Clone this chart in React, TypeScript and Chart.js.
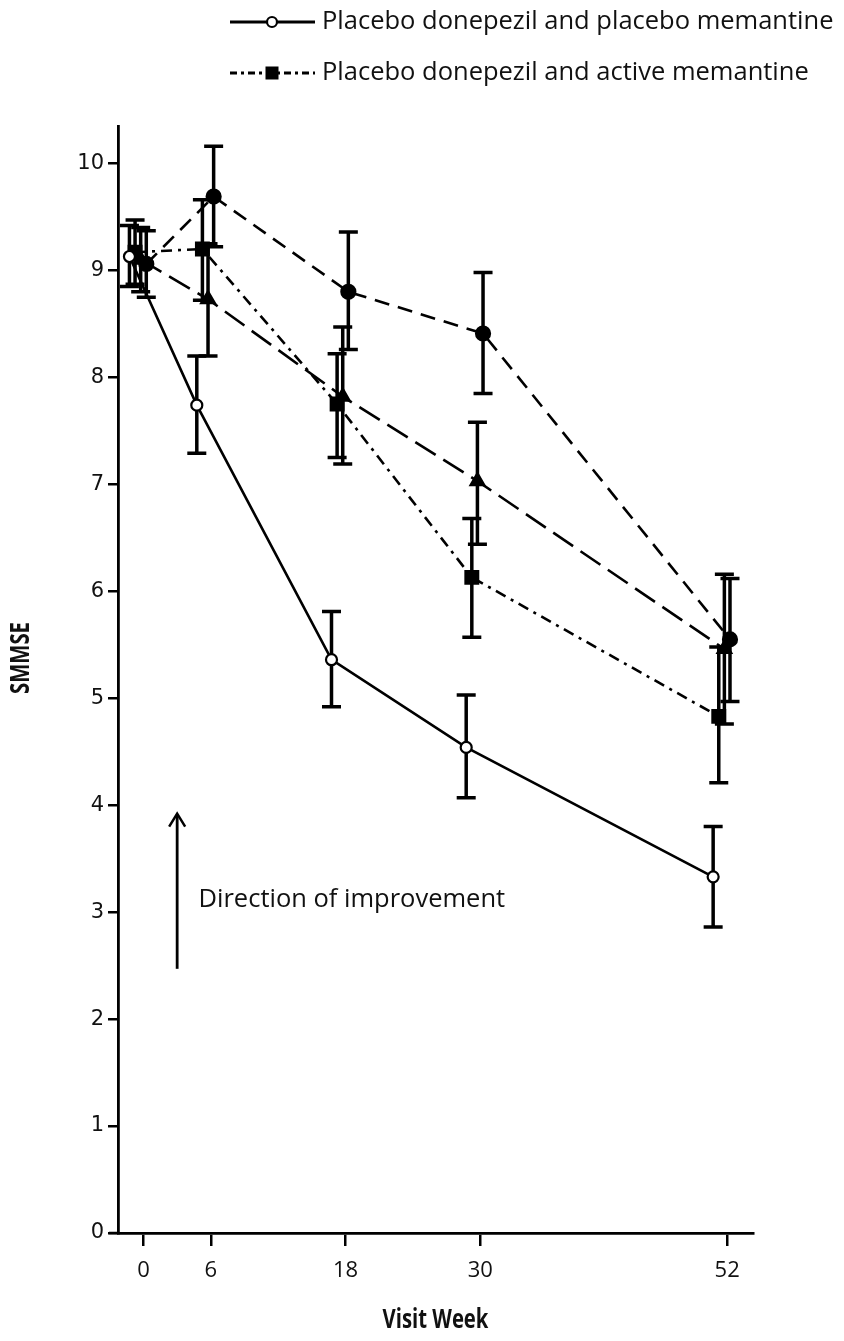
import React, { useEffect, useRef } from "react";
import { Chart, registerables } from "chart.js";

Chart.register(...registerables);

// ---- data ----
const weeks = [0, 6, 18, 30, 52];
const xTickLabels = ["0", "6", "18", "30", "52"];
const yTickValues = [0, 1, 2, 3, 4, 5, 6, 7, 8, 9, 10];

const seriesLabels = [
  "Placebo donepezil and placebo memantine",
  "Placebo donepezil and active memantine",
  "Active donepezil and placebo memantine",
  "Active donepezil and active memantine",
];

// Placebo donepezil + placebo memantine (open circle, solid)
const ppMean = [9.13, 7.74, 5.36, 4.54, 3.33];
const ppLow = [8.85, 7.29, 4.92, 4.07, 2.86];
const ppHigh = [9.42, 8.2, 5.81, 5.03, 3.8];

// Placebo donepezil + active memantine (square, dash-dot)
const paMean = [9.17, 9.2, 7.75, 6.13, 4.83];
const paLow = [8.87, 8.72, 7.25, 5.57, 4.21];
const paHigh = [9.47, 9.66, 8.22, 6.68, 5.48];

// Active donepezil + placebo memantine (triangle, long dash)
const dpMean = [9.1, 8.73, 7.82, 7.03, 5.46];
const dpLow = [8.8, 8.2, 7.19, 6.44, 4.76];
const dpHigh = [9.4, 9.25, 8.47, 7.58, 6.16];

// Active donepezil + active memantine (filled circle, dashed)
const daMean = [9.06, 9.69, 8.8, 8.41, 5.55];
const daLow = [8.75, 9.22, 8.26, 7.85, 4.97];
const daHigh = [9.37, 10.16, 9.36, 8.98, 6.12];

// horizontal dodge of each group (weeks)
const dodges = [-1.25, -0.75, -0.25, 0.25];

const legendShown = [0, 1];
const annotationText = "Direction of improvement";
const xTitle = "Visit Week";
const yTitle = "SMMSE";

const means = [ppMean, paMean, dpMean, daMean];
const lows = [ppLow, paLow, dpLow, daLow];
const highs = [ppHigh, paHigh, dpHigh, daHigh];

const styles = [
  { dash: [], legendDash: [], point: "circle", radius: 5.5, bg: "#ffffff" },
  { dash: [11, 6, 3, 6], legendDash: [7, 4, 3, 4], point: "rect", radius: 9, bg: "#000000" },
  { dash: [24, 9], legendDash: [24, 9], point: "triangle", radius: 8, bg: "#000000" },
  { dash: [15, 9], legendDash: [15, 9], point: "circle", radius: 7, bg: "#000000" },
];

const TEXT = "#111111";
const BODY_FONT = "'Open Sans'";

const errorBarPlugin = {
  id: "errorBars",
  beforeDatasetsDraw(chart: any) {
    const { ctx, scales } = chart;
    const xs = scales.x;
    const ys = scales.y;
    ctx.save();
    ctx.strokeStyle = "#000";
    ctx.lineWidth = 3.5;
    ctx.lineCap = "butt";
    ctx.setLineDash([]);
    means.forEach((_, i) => {
      weeks.forEach((w, j) => {
        const x = xs.getPixelForValue(w + dodges[i]);
        const yl = ys.getPixelForValue(lows[i][j]);
        const yh = ys.getPixelForValue(highs[i][j]);
        ctx.beginPath();
        ctx.moveTo(x, yl);
        ctx.lineTo(x, yh);
        ctx.moveTo(x - 9.5, yl);
        ctx.lineTo(x + 9.5, yl);
        ctx.moveTo(x - 9.5, yh);
        ctx.lineTo(x + 9.5, yh);
        ctx.stroke();
      });
    });
    ctx.restore();
  },
};

const decorPlugin = {
  id: "decor",
  afterDraw(chart: any) {
    const { ctx, scales, chartArea } = chart;
    const xs = scales.x;
    const ys = scales.y;
    ctx.save();
    // small overhang of x-axis to the left of the y-axis
    ctx.strokeStyle = "#000";
    ctx.lineWidth = 2.5;
    ctx.beginPath();
    ctx.moveTo(chartArea.left - 9, chartArea.bottom);
    ctx.lineTo(chartArea.left, chartArea.bottom);
    ctx.stroke();

    // legend
    legendShown.forEach((i, k) => {
      const y = 22 + k * 51;
      const st = styles[i];
      ctx.strokeStyle = "#000";
      ctx.lineWidth = 2.8;
      ctx.setLineDash(st.legendDash);
      ctx.beginPath();
      ctx.moveTo(230, y);
      ctx.lineTo(315, y);
      ctx.stroke();
      ctx.setLineDash([]);
      const cx = 272;
      if (st.point === "rect") {
        ctx.fillStyle = "#000";
        ctx.fillRect(cx - 6.5, y - 6.5, 13, 13);
      } else {
        ctx.beginPath();
        ctx.arc(cx, y, 5, 0, Math.PI * 2);
        ctx.fillStyle = st.bg;
        ctx.fill();
        ctx.lineWidth = 2.2;
        ctx.stroke();
      }
      ctx.fillStyle = TEXT;
      ctx.font = `25.5px ${BODY_FONT}`;
      ctx.textAlign = "left";
      ctx.textBaseline = "middle";
      ctx.fillText(seriesLabels[i], 322, y);
    });

    // direction arrow
    const ax = xs.getPixelForValue(3);
    const yBot = ys.getPixelForValue(2.47);
    const yTop = ys.getPixelForValue(3.93);
    ctx.strokeStyle = "#000";
    ctx.lineWidth = 2.8;
    ctx.beginPath();
    ctx.moveTo(ax, yBot);
    ctx.lineTo(ax, yTop + 2);
    ctx.stroke();
    ctx.lineWidth = 2.5;
    ctx.beginPath();
    ctx.moveTo(ax - 8, yTop + 14);
    ctx.lineTo(ax, yTop + 1);
    ctx.lineTo(ax + 8, yTop + 14);
    ctx.stroke();
    ctx.fillStyle = TEXT;
    ctx.font = `25.5px ${BODY_FONT}`;
    ctx.textAlign = "left";
    ctx.textBaseline = "middle";
    ctx.fillText(annotationText, xs.getPixelForValue(4.9), ys.getPixelForValue(3.12));

    // axis titles (bold, slightly condensed)
    ctx.font = `bold 26px ${BODY_FONT}`;
    ctx.textAlign = "center";
    ctx.textBaseline = "middle";
    ctx.save();
    ctx.translate((chartArea.left + chartArea.right) / 2, 1321);
    ctx.scale(0.78, 1);
    ctx.fillText(xTitle, 0, 0);
    ctx.restore();
    ctx.save();
    ctx.translate(22, 658);
    ctx.rotate(-Math.PI / 2);
    ctx.scale(0.78, 1);
    ctx.fillText(yTitle, 0, 0);
    ctx.restore();

    ctx.restore();
  },
};

export default function App() {
  const ref = useRef<HTMLCanvasElement | null>(null);
  useEffect(() => {
    if (!ref.current) return;
    const datasets = means.map((m, i) => ({
      label: seriesLabels[i],
      data: weeks.map((w, j) => ({ x: w + dodges[i], y: m[j] })),
      borderColor: "#000",
      borderWidth: 2.6,
      borderDash: styles[i].dash,
      pointStyle: styles[i].point,
      pointRadius: styles[i].radius,
      pointBackgroundColor: styles[i].bg,
      pointBorderColor: "#000",
      pointBorderWidth: 2.2,
      showLine: true,
      fill: false,
      tension: 0,
    }));
    const chart = new Chart(ref.current, {
      type: "scatter",
      data: { datasets },
      options: {
        animation: false,
        responsive: false,
        events: [],
        layout: { padding: { top: 126, right: 91, left: 0, bottom: 0 } },
        plugins: { legend: { display: false }, tooltip: { enabled: false } },
        scales: {
          x: {
            type: "linear",
            min: -2.27,
            max: 54.3,
            afterBuildTicks: (s: any) => {
              s.ticks = weeks.map((v) => ({ value: v }));
            },
            afterFit: (s: any) => {
              s.height = 108;
            },
            ticks: {
              color: TEXT,
              font: { family: BODY_FONT, size: 22 },
              padding: 12,
              callback: (v: any) => xTickLabels[weeks.indexOf(Number(v))] ?? "",
              maxRotation: 0,
            },
            grid: { drawOnChartArea: false, drawTicks: true, tickLength: 13, lineWidth: 2.5, color: "#000" },
            border: { display: true, color: "#000", width: 2.8 },
          },
          y: {
            type: "linear",
            min: 0,
            max: 10.35,
            afterBuildTicks: (s: any) => {
              s.ticks = yTickValues.map((v) => ({ value: v }));
            },
            afterFit: (s: any) => {
              s.width = 118;
            },
            ticks: {
              color: TEXT,
              font: { family: "'DejaVu Sans'", size: 21 },
              padding: 4,
            },
            grid: { drawOnChartArea: false, drawTicks: true, tickLength: 10, lineWidth: 2.5, color: "#000" },
            border: { display: true, color: "#000", width: 2.8 },
          },
        },
      },
      plugins: [errorBarPlugin, decorPlugin],
    } as any);
    return () => chart.destroy();
  }, []);
  return (
    <div style={{ position: "absolute", left: 0, top: 0, width: 844, height: 1341, background: "#fff" }}>
      <canvas ref={ref} width={844} height={1341} style={{ display: "block" }} />
    </div>
  );
}
